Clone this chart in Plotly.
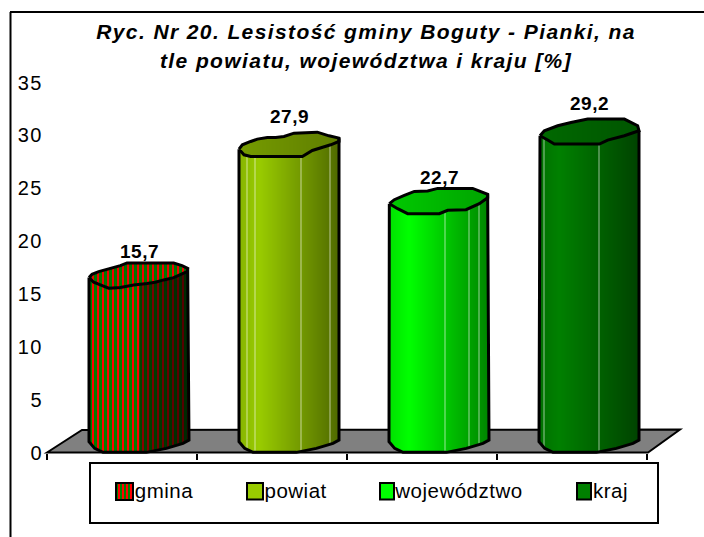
import numpy as np
import plotly.graph_objects as go

categories = ["gmina", "powiat", "województwo", "kraj"]
values = [15.7, 27.9, 22.7, 29.2]
y_ticks = [0, 5, 10, 15, 20, 25, 30, 35]
title_lines = ["Ryc. Nr 20. Lesistość gminy Boguty - Pianki, na", "tle powiatu, województwa i kraju [%]"]

W, H = 704, 537
PX_PER_UNIT = 370 / 35
PX_PER_CAT = 150
HALF = 50


def px(x):
    return x / W


def py(y):
    return 1 - y / H


# bumpy outlines of the cylinder caps and base, in pixels around each cylinder's axis
def rel(points, cx, cy):
    return [((a - cx) / 3, (b - cy) / 3) for a, b in points]


caps = [
    rel([(16, 58), (25, 48), (45, 40), (65, 35), (90, 29), (110, 22), (130, 14), (190, 14), (270, 14), (295, 22),
         (312, 30), (310, 40), (290, 50), (270, 58), (240, 65), (215, 72), (190, 76), (150, 80), (110, 88), (75, 90),
         (50, 80), (30, 72), (16, 58)], 166, 54),
    rel([(15, 68), (25, 55), (50, 45), (70, 38), (100, 33), (125, 33), (150, 30), (180, 20), (250, 17), (285, 28),
         (315, 35), (315, 45), (290, 55), (270, 62), (235, 72), (205, 90), (150, 90), (50, 90), (30, 85), (15, 68)], 165, 63),
    rel([(115, 310), (130, 298), (160, 285), (190, 273), (230, 272), (260, 264), (365, 264), (410, 282), (410, 292),
         (385, 310), (345, 328), (290, 330), (265, 340), (170, 340), (140, 325), (115, 310)], 264, 306),
    rel([(567, 105), (580, 90), (620, 75), (660, 65), (710, 55), (820, 55), (860, 75), (864, 90), (820, 105), (770, 118),
         (745, 130), (610, 130), (590, 118), (567, 105)], 714, 99),
]
foot = rel([(268, 605), (285, 625), (310, 637), (440, 637), (500, 625), (550, 610), (568, 600)], 418, 606)

body_rgb = [None, (153, 204, 0), (0, 255, 0), (0, 128, 0)]
cap_rgb = [None, (112, 148, 0), (0, 192, 0), (0, 100, 0)]
highlights = [[], [0.08, 0.16, 0.62, 0.91], [0.56, 0.8, 0.9], [0.05, 0.6]]
RED, GREEN = (255, 0, 0), (0, 128, 0)


def css(c):
    return "rgb(%d,%d,%d)" % tuple(int(round(v)) for v in c)


def shade(t):
    return float(np.interp(t, [0, 0.2, 1], [0.88, 1.0, 0.52]))


def strip_color(i, k, top):
    t = (k + HALF + 0.5) / (2 * HALF)
    if i == 0:
        base = GREEN if (k + HALF) % 5 < 3 else RED
        f = 0.95 if top else float(np.interp(t, [0, 0.5, 0.51, 1], [1.0, 1.0, 0.55, 0.3]))
        return css([v * f for v in base])
    if top:
        return css([v * (1.05 - 0.2 * t) for v in cap_rgb[i]])
    c = [v * shade(t) for v in body_rgb[i]]
    if any(abs(t - h) < 0.006 for h in highlights[i]):
        c = [v + (255 - v) * 0.3 for v in c]
    return css(c)


fig = go.Figure()
# the front axis (ticks and labels) shares the chart's values
fig.add_scatter(x=list(range(len(values))), y=values, mode="markers", marker=dict(opacity=0),
                xaxis="x", yaxis="y", showlegend=False, hoverinfo="skip")
offsets = np.arange(-HALF, HALF)
for i, (name, v) in enumerate(zip(categories, values)):
    cap = caps[i]
    idx_right = int(np.argmax([p[0] for p in cap]))
    upper = cap[: idx_right + 1]
    lower = sorted(cap[idx_right:], key=lambda p: p[0])
    centers = offsets + 0.5
    up = np.interp(centers, [p[0] for p in upper], [p[1] for p in upper])
    lo = np.interp(centers, [p[0] for p in lower], [p[1] for p in lower])
    ft = np.interp(centers, [p[0] for p in foot], [p[1] for p in foot])
    xs = i + centers / PX_PER_CAT
    body_top = v - lo / PX_PER_UNIT
    body_base = -ft / PX_PER_UNIT
    fig.add_bar(x=xs, y=body_top - body_base, base=body_base, width=1 / PX_PER_CAT, name=name,
                marker=dict(color=[strip_color(i, k, False) for k in offsets], line=dict(width=0)),
                xaxis="x2", yaxis="y2", showlegend=False, hoverinfo="skip")
    cap_top = v - up / PX_PER_UNIT
    fig.add_bar(x=xs, y=cap_top - body_top, base=body_top, width=1 / PX_PER_CAT, name=name,
                marker=dict(color=[strip_color(i, k, True) for k in offsets], line=dict(width=0)),
                xaxis="x2", yaxis="y2", showlegend=False, hoverinfo="skip")
    # outline: cap ring, then sides and foot
    ring_x = [i + p[0] / PX_PER_CAT for p in cap]
    ring_y = [v - p[1] / PX_PER_UNIT for p in cap]
    sx = [i + cap[0][0] / PX_PER_CAT] + [i + p[0] / PX_PER_CAT for p in foot] + [i + cap[idx_right][0] / PX_PER_CAT]
    sy = [v - cap[0][1] / PX_PER_UNIT] + [-p[1] / PX_PER_UNIT for p in foot] + [v - cap[idx_right][1] / PX_PER_UNIT]
    fig.add_scatter(x=ring_x + [None] + sx, y=ring_y + [None] + sy, mode="lines",
                    line=dict(color="black", width=3), xaxis="x2", yaxis="y2", showlegend=False,
                    hoverinfo="skip", connectgaps=False)

shapes = []
# chart frame: only the top and left edges fall inside the picture
shapes.append(dict(type="line", xref="paper", yref="paper", x0=px(10.5), x1=px(10.5), y0=0, y1=py(12),
                   line=dict(color="black", width=2)))
shapes.append(dict(type="line", xref="paper", yref="paper", x0=px(10), x1=1, y0=py(12), y1=py(12),
                   line=dict(color="black", width=2)))
# floor
floor = [(47, 452.5), (82, 430), (680, 429.5), (648, 452.5)]
shapes.append(dict(type="path", xref="paper", yref="paper", layer="below",
                   path="M" + " L".join(f"{px(a)},{py(b)}" for a, b in floor) + " Z",
                   fillcolor="#808080", line=dict(color="black", width=2)))
# legend box
shapes.append(dict(type="rect", xref="paper", yref="paper", x0=px(90), x1=px(658), y0=py(523), y1=py(463),
                   fillcolor="white", line=dict(color="black", width=2)))
swatches = [(116, 133), (247, 263), (380, 394), (577, 591)]
for i, (a, b) in enumerate(swatches):
    if i == 0:
        shapes.append(dict(type="rect", xref="paper", yref="paper", x0=px(a), x1=px(b), y0=py(500), y1=py(483),
                           fillcolor=css(GREEN), line=dict(width=0)))
        for xr in range(a + 2, b - 1, 4):
            shapes.append(dict(type="rect", xref="paper", yref="paper", x0=px(xr), x1=px(xr + 2), y0=py(500), y1=py(483),
                               fillcolor=css(RED), line=dict(width=0)))
        shapes.append(dict(type="rect", xref="paper", yref="paper", x0=px(a), x1=px(b), y0=py(500), y1=py(483),
                           line=dict(color="black", width=2)))
    else:
        shapes.append(dict(type="rect", xref="paper", yref="paper", x0=px(a), x1=px(b), y0=py(499.5), y1=py(483),
                           fillcolor=css(body_rgb[i]), line=dict(color="black", width=2)))

annotations = []
legend_text_x = [136, 266, 397, 594]
for name, xt in zip(categories, legend_text_x):
    annotations.append(dict(xref="paper", yref="paper", x=px(xt), y=py(490), text=name, showarrow=False,
                            xanchor="left", yanchor="middle", font=dict(size=20.5, color="black"),
                            borderpad=0, borderwidth=0))
label_shift = [25, 31, 25, 30]
for i, v in enumerate(values):
    annotations.append(dict(xref="x2", yref="y2", x=i, y=v, yshift=label_shift[i], text=f"{v:.1f}".replace(".", ","),
                            showarrow=False, xanchor="center", yanchor="middle",
                            font=dict(size=19, color="black", weight="bold")))

fig.update_layout(
    width=W, height=H, margin=dict(l=0, r=0, t=0, b=0), autosize=False,
    paper_bgcolor="white", plot_bgcolor="rgba(0,0,0,0)", barmode="overlay", bargap=0,
    showlegend=False,
    font=dict(family="Liberation Sans", color="black"),
    title=dict(text="<br>".join(title_lines), x=px(366), xanchor="center", y=py(39), yanchor="middle",
               font=dict(size=21, style="italic", weight="bold", family="Liberation Sans", color="black")),
    xaxis=dict(domain=[px(47), px(647)], range=[-0.5, 3.5], tickmode="array", tickvals=[-0.5, 0.5, 1.5, 2.5, 3.5],
               ticktext=[""] * 5, ticks="outside", ticklen=6, tickwidth=2, tickcolor="black", automargin=False,
               showgrid=False, zeroline=False, showline=False, anchor="y"),
    yaxis=dict(domain=[py(452.5), py(82.5)], range=[0, 35], tickmode="array", tickvals=y_ticks, automargin=False,
               ticks="", showgrid=False, zeroline=False, showline=False, anchor="x",
               tickfont=dict(size=20, color="black"), ticklabelstandoff=3),
    xaxis2=dict(domain=[px(64), px(664)], range=[-0.5, 3.5], visible=False, anchor="y2", automargin=False),
    yaxis2=dict(domain=[py(442 + 2 * PX_PER_UNIT), py(72.5)], range=[-2, 35], visible=False, anchor="x2", automargin=False),
    shapes=shapes, annotations=annotations,
)
post = """
document.body.style.margin = '0';
document.querySelectorAll('.gtitle').forEach(function (t) { t.style.letterSpacing = '1.4px'; });
document.querySelectorAll('.gtitle .line').forEach(function (t, n) {
  if (n === 1) { t.setAttribute('y', parseFloat(t.getAttribute('y')) + 2); }
});
document.querySelectorAll('.annotation-text').forEach(function (t) { t.style.letterSpacing = '0.5px'; });
document.querySelectorAll('.ytick text').forEach(function (t) { t.style.letterSpacing = '1.5px'; });
"""
fig.write_html("out.html", config=dict(displayModeBar=False), post_script=post)
